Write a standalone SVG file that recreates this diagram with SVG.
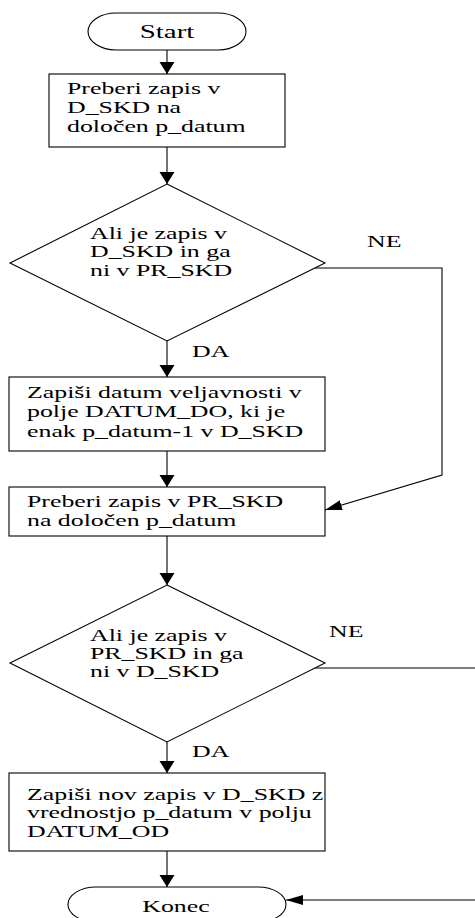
<svg xmlns="http://www.w3.org/2000/svg" width="475" height="918" viewBox="0 0 475 918">
  <style>
    .shape { fill: #fff; stroke: #000; stroke-width: 1.1; }
    .wire { fill: none; stroke: #000; stroke-width: 1.1; }
    .txt { font-family: "Liberation Serif", "Times New Roman", serif; font-size: 17px; fill: #000; }
  </style>
  <defs>
    <!-- head for vertical flow arrows (wider than long) -->
    <marker id="ah-v" markerUnits="userSpaceOnUse" markerWidth="13" markerHeight="16" refX="12" refY="7.5" orient="auto">
      <path d="M0,0 L12,7.5 L0,15 z" fill="#000"/>
    </marker>
    <!-- head for horizontal / slanted arrows (longer than wide) -->
    <marker id="ah-h" markerUnits="userSpaceOnUse" markerWidth="18" markerHeight="11" refX="17" refY="5" orient="auto">
      <path d="M0,0 L17,5 L0,10 z" fill="#000"/>
    </marker>
  </defs>

  <rect width="475" height="918" fill="#fff"/>

  <!-- connectors -->
  <g id="connectors">
    <line class="wire" x1="167" y1="50" x2="167" y2="74" marker-end="url(#ah-v)"/>
    <line class="wire" x1="167" y1="147" x2="167" y2="184" marker-end="url(#ah-v)"/>
    <line class="wire" x1="167" y1="341" x2="167" y2="377" marker-end="url(#ah-v)"/>
    <line class="wire" x1="167" y1="451" x2="167" y2="487" marker-end="url(#ah-v)"/>
    <line class="wire" x1="167" y1="536" x2="167" y2="585" marker-end="url(#ah-v)"/>
    <line class="wire" x1="167" y1="742" x2="167" y2="773" marker-end="url(#ah-v)"/>
    <line class="wire" x1="167" y1="851" x2="167" y2="887" marker-end="url(#ah-v)"/>
    <!-- NE branch of first decision -->
    <polyline class="wire" points="303,268 442,268 442,475 325,510" marker-end="url(#ah-h)"/>
    <!-- NE branch of second decision -->
    <line class="wire" x1="303" y1="668" x2="476" y2="668"/>
    <line class="wire" x1="476" y1="900" x2="286" y2="900" marker-end="url(#ah-h)"/>
    <text class="txt" transform="translate(367 247) scale(1.52 1)">NE</text>
    <text class="txt" transform="translate(192 357) scale(1.52 1)">DA</text>
    <text class="txt" transform="translate(329 637) scale(1.52 1)">NE</text>
    <text class="txt" transform="translate(192 757) scale(1.52 1)">DA</text>
  </g>

  <g id="start">
    <rect class="shape" x="88" y="13" width="158" height="37" rx="28" ry="18.5"/>
    <text class="txt" style="font-size:19px" text-anchor="middle" transform="translate(167 38) scale(1.52 1)">Start</text>
  </g>

  <g id="read-dskd">
    <rect class="shape" x="49" y="74" width="236" height="73"/>
    <text class="txt" transform="translate(67 94) scale(1.52 1)">
      <tspan x="0" y="0">Preberi zapis v</tspan>
      <tspan x="0" y="19">D_SKD na</tspan>
      <tspan x="0" y="38">določen p_datum</tspan>
    </text>
  </g>

  <g id="check-dskd">
    <polygon class="shape" points="167,184 325,263 167,341 10,263"/>
    <text class="txt" transform="translate(90 239) scale(1.52 1)">
      <tspan x="0" y="0">Ali je zapis v</tspan>
      <tspan x="0" y="18.5">D_SKD in ga</tspan>
      <tspan x="0" y="37">ni v PR_SKD</tspan>
    </text>
  </g>

  <g id="write-datum-do">
    <rect class="shape" x="9" y="377" width="316" height="74"/>
    <text class="txt" transform="translate(27 398) scale(1.52 1)">
      <tspan x="0" y="0">Zapiši datum veljavnosti v</tspan>
      <tspan x="0" y="19.5">polje DATUM_DO, ki je</tspan>
      <tspan x="0" y="39">enak p_datum-1 v D_SKD</tspan>
    </text>
  </g>

  <g id="read-prskd">
    <rect class="shape" x="9" y="487" width="316" height="49"/>
    <text class="txt" transform="translate(27 507) scale(1.52 1)">
      <tspan x="0" y="0">Preberi zapis v PR_SKD</tspan>
      <tspan x="0" y="19">na določen p_datum</tspan>
    </text>
  </g>

  <g id="check-prskd">
    <polygon class="shape" points="167,585 325,663 167,742 10,663"/>
    <text class="txt" transform="translate(90 641) scale(1.52 1)">
      <tspan x="0" y="0">Ali je zapis v</tspan>
      <tspan x="0" y="18">PR_SKD in ga</tspan>
      <tspan x="0" y="36">ni v D_SKD</tspan>
    </text>
  </g>

  <g id="write-datum-od">
    <rect class="shape" x="9" y="773" width="316" height="78"/>
    <text class="txt" transform="translate(27 800) scale(1.52 1)">
      <tspan x="0" y="0">Zapiši nov zapis v D_SKD z</tspan>
      <tspan x="0" y="18.5">vrednostjo p_datum v polju</tspan>
      <tspan x="0" y="37">DATUM_OD</tspan>
    </text>
  </g>

  <g id="end">
    <rect class="shape" x="68" y="887" width="218" height="35" rx="28" ry="17.5"/>
    <text class="txt" text-anchor="middle" transform="translate(176 912) scale(1.52 1)">Konec</text>
  </g>
</svg>
